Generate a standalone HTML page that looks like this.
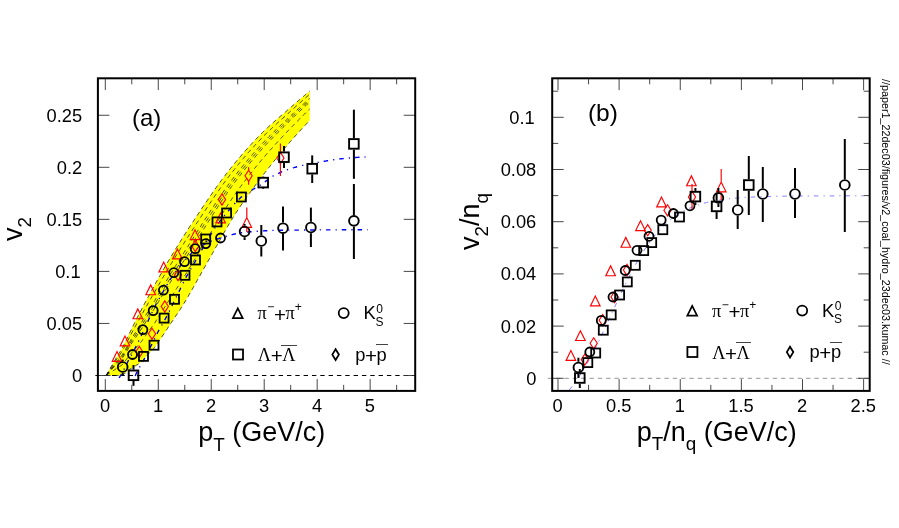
<!DOCTYPE html>
<html><head><meta charset="utf-8"><title>v2 scaling</title>
<style>
html,body{margin:0;padding:0;background:#fff;}
body{width:899px;height:528px;position:relative;overflow:hidden;font-family:"Liberation Sans",sans-serif;color:#000;}
.tx{position:absolute;left:0;top:0;width:899px;height:528px;filter:grayscale(1);}
.t{position:absolute;white-space:nowrap;line-height:1;font-family:"Liberation Sans",sans-serif;}
.sub{font-size:70%;position:relative;top:0.5em;line-height:0;}
.sup{font-size:66%;position:relative;top:-0.66em;line-height:0;}
.pl{font-size:112%;position:relative;top:0.11em;line-height:0;margin:0 -0.02em;}
.sy{font-family:"Liberation Serif",serif;}
.ob{position:relative;display:inline-block;}
.ob:before{content:"";position:absolute;left:-0.05em;right:-0.06em;top:-0.07em;border-top:1px solid #444;}
</style></head><body>
<svg width="899" height="528" viewBox="0 0 899 528" style="position:absolute;left:0;top:0">
<polygon points="106.1,375.4 107.8,372.5 109.5,369.5 111.2,366.6 112.9,363.7 114.7,360.7 116.4,357.9 118.1,355.0 119.8,352.2 121.5,349.2 123.2,346.1 124.9,342.8 126.6,339.3 128.3,335.8 130.1,332.1 131.8,328.6 133.5,325.0 135.2,321.7 136.9,318.3 138.6,315.0 140.3,311.7 142.0,308.4 143.7,305.2 145.5,301.9 147.2,298.8 148.9,295.6 150.6,292.5 152.3,289.3 154.0,286.2 155.7,283.1 157.4,280.1 159.1,277.0 160.8,274.0 162.6,271.0 164.3,268.0 166.0,265.1 167.7,262.2 169.4,259.3 171.1,256.5 172.8,253.6 174.5,250.8 176.2,248.0 178.0,245.3 179.7,242.5 181.4,239.8 183.1,237.1 184.8,234.4 186.5,231.7 188.2,229.1 189.9,226.4 191.6,223.8 193.4,221.2 195.1,218.6 196.8,216.0 198.5,213.5 200.2,210.9 201.9,208.4 203.6,205.8 205.3,203.3 207.0,200.8 208.8,198.3 210.5,195.8 212.2,193.3 213.9,190.8 215.6,188.4 217.3,186.0 219.0,183.6 220.7,181.3 222.4,178.9 224.2,176.7 225.9,174.4 227.6,172.2 229.3,170.0 231.0,167.9 232.7,165.8 234.4,163.7 236.1,161.6 237.8,159.5 239.6,157.5 241.3,155.5 243.0,153.5 244.7,151.5 246.4,149.6 248.1,147.7 249.8,145.8 251.5,143.9 253.2,142.1 255.0,140.2 256.7,138.4 258.4,136.7 260.1,134.9 261.8,133.2 263.5,131.5 265.2,129.9 266.9,128.2 268.6,126.7 270.3,125.1 272.1,123.6 273.8,122.0 275.5,120.5 277.2,119.0 278.9,117.6 280.6,116.1 282.3,114.6 284.0,113.2 285.7,111.7 287.5,110.2 289.2,108.7 290.9,107.2 292.6,105.7 294.3,104.2 296.0,102.8 297.7,101.3 299.4,99.8 301.1,98.3 302.9,96.8 304.6,95.4 306.3,93.9 308.0,92.5 309.7,91.0 309.7,120.5 308.1,122.1 306.6,123.8 305.0,125.4 303.4,127.1 301.9,128.8 300.3,130.5 298.7,132.2 297.1,133.9 295.6,135.7 294.0,137.4 292.4,139.2 290.9,141.0 289.3,142.8 287.7,144.6 286.2,146.5 284.6,148.3 283.0,150.2 281.5,152.1 279.9,154.0 278.3,155.9 276.8,157.8 275.2,159.7 273.6,161.7 272.0,163.6 270.5,165.6 268.9,167.6 267.3,169.6 265.8,171.6 264.2,173.6 262.6,175.6 261.1,177.7 259.5,179.7 257.9,181.8 256.4,183.9 254.8,186.0 253.2,188.2 251.7,190.3 250.1,192.5 248.5,194.6 246.9,196.8 245.4,199.0 243.8,201.2 242.2,203.5 240.7,205.8 239.1,208.1 237.5,210.4 236.0,212.8 234.4,215.3 232.8,217.8 231.3,220.4 229.7,223.0 228.1,225.6 226.5,228.3 225.0,231.1 223.4,233.8 221.8,236.6 220.3,239.4 218.7,242.2 217.1,245.0 215.6,247.8 214.0,250.6 212.4,253.4 210.9,256.2 209.3,259.0 207.7,261.7 206.2,264.5 204.6,267.3 203.0,270.1 201.4,272.9 199.9,275.7 198.3,278.5 196.7,281.3 195.2,284.1 193.6,286.9 192.0,289.6 190.5,292.4 188.9,295.1 187.3,297.8 185.8,300.4 184.2,303.1 182.6,305.6 181.0,308.1 179.5,310.5 177.9,312.9 176.3,315.2 174.8,317.6 173.2,319.9 171.6,322.2 170.1,324.5 168.5,326.9 166.9,329.2 165.4,331.6 163.8,334.0 162.2,336.4 160.7,338.7 159.1,341.0 157.5,343.3 155.9,345.6 154.4,347.7 152.8,349.5 151.2,351.0 149.7,352.6 148.1,354.2 146.5,356.1 145.0,358.0 143.4,359.8 141.8,361.4 140.3,362.6 138.7,363.8 137.1,364.8 135.6,365.8 134.0,366.8 132.4,367.7 130.8,368.6 129.3,369.5 127.7,370.7 126.1,372.1 124.6,373.7 123.0,375.5" fill="#ffff00"/>
<path d="M106.1 375.4L107.4 373.2L108.7 371.0L109.9 368.8L111.2 366.6L112.5 364.4L113.8 362.2L115.1 360.0L116.3 357.9L117.6 355.8L118.9 353.6L120.2 351.5L121.5 349.3L122.7 347.0L124.0 344.6L125.3 342.0L126.6 339.4L127.9 336.8L129.1 334.1L130.4 331.4L131.7 328.7L133.0 326.0L134.3 323.5L135.6 320.9L136.8 318.4L138.1 315.9L139.4 313.4L140.7 311.0L142.0 308.5L143.2 306.1L144.5 303.7L145.8 301.3L147.1 298.9L148.4 296.6L149.6 294.2L150.9 291.9L152.2 289.5L153.5 287.2L154.8 284.9L156.0 282.6L157.3 280.3L158.6 278.0L159.9 275.7L161.2 273.5L162.4 271.2L163.7 269.0L165.0 266.8L166.3 264.6L167.6 262.4L168.8 260.3L170.1 258.1L171.4 256.0L172.7 253.9L174.0 251.8L175.2 249.7L176.5 247.6L177.8 245.5L179.1 243.5L180.4 241.4L181.6 239.4L182.9 237.3L184.2 235.3L185.5 233.3L186.8 231.3L188.1 229.3L189.3 227.3L190.6 225.4L191.9 223.4L193.2 221.5L194.5 219.5L195.7 217.6L197.0 215.7L198.3 213.8L199.6 211.8L200.9 209.9L202.1 208.0L203.4 206.1L204.7 204.2L206.0 202.3L207.3 200.5L208.5 198.6L209.8 196.7L211.1 194.9L212.4 193.0L213.7 191.2L214.9 189.3L216.2 187.5L217.5 185.7L218.8 183.9L220.1 182.2L221.3 180.4L222.6 178.7L223.9 177.0L225.2 175.3L226.5 173.6L227.7 172.0L229.0 170.3L230.3 168.7L231.6 167.1L232.9 165.6L234.2 164.0L235.4 162.4L236.7 160.9L238.0 159.3L239.3 157.8L240.6 156.3L241.8 154.8L243.1 153.3L244.4 151.9L245.7 150.4L247.0 149.0L248.2 147.5L249.5 146.1L250.8 144.7L252.1 143.3L253.4 141.9L254.6 140.6L255.9 139.2L257.2 137.9L258.5 136.6L259.8 135.3L261.0 134.0L262.3 132.7L263.6 131.4L264.9 130.2L266.2 129.0L267.4 127.8L268.7 126.6L270.0 125.4L271.3 124.3L272.6 123.1L273.8 122.0L275.1 120.8L276.4 119.7L277.7 118.6L279.0 117.5L280.2 116.4L281.5 115.3L282.8 114.2L284.1 113.1L285.4 112.0L286.7 110.9L287.9 109.8L289.2 108.7L290.5 107.6L291.8 106.4L293.1 105.3L294.3 104.2L295.6 103.1L296.9 102.0L298.2 100.9L299.5 99.8L300.7 98.7L302.0 97.6L303.3 96.5L304.6 95.4L305.9 94.3L307.1 93.2L308.4 92.1L309.7 91.0" fill="none" stroke="#000" stroke-width="0.7" stroke-dasharray="4.4 3.6"/>
<path d="M106.1 375.4L107.4 373.5L108.7 371.5L109.9 369.5L111.2 367.6L112.5 365.6L113.8 363.7L115.1 361.7L116.3 359.8L117.6 357.9L118.9 356.0L120.2 354.1L121.5 352.2L122.7 350.1L124.0 347.8L125.3 345.4L126.6 343.0L127.9 340.5L129.1 338.0L130.4 335.5L131.7 333.0L133.0 330.6L134.3 328.2L135.6 325.9L136.8 323.5L138.1 321.2L139.4 318.9L140.7 316.6L142.0 314.3L143.2 312.0L144.5 309.7L145.8 307.4L147.1 305.1L148.4 302.9L149.6 300.6L150.9 298.4L152.2 296.2L153.5 294.0L154.8 291.7L156.0 289.5L157.3 287.2L158.6 285.0L159.9 282.8L161.2 280.6L162.4 278.4L163.7 276.2L165.0 274.0L166.3 271.8L167.6 269.7L168.8 267.5L170.1 265.4L171.4 263.3L172.7 261.2L174.0 259.1L175.2 257.1L176.5 255.0L177.8 252.9L179.1 250.9L180.4 248.9L181.6 246.8L182.9 244.8L184.2 242.8L185.5 240.7L186.8 238.7L188.1 236.7L189.3 234.7L190.6 232.7L191.9 230.7L193.2 228.7L194.5 226.8L195.7 224.8L197.0 222.8L198.3 220.9L199.6 218.9L200.9 217.0L202.1 215.0L203.4 213.1L204.7 211.1L206.0 209.2L207.3 207.3L208.5 205.4L209.8 203.5L211.1 201.6L212.4 199.7L213.7 197.8L214.9 195.9L216.2 194.0L217.5 192.2L218.8 190.3L220.1 188.5L221.3 186.7L222.6 184.9L223.9 183.1L225.2 181.4L226.5 179.7L227.7 177.9L229.0 176.3L230.3 174.6L231.6 172.9L232.9 171.3L234.2 169.7L235.4 168.1L236.7 166.5L238.0 164.9L239.3 163.3L240.6 161.8L241.8 160.2L243.1 158.7L244.4 157.2L245.7 155.7L247.0 154.2L248.2 152.7L249.5 151.3L250.8 149.8L252.1 148.4L253.4 147.0L254.6 145.6L255.9 144.2L257.2 142.8L258.5 141.5L259.8 140.1L261.0 138.8L262.3 137.4L263.6 136.1L264.9 134.9L266.2 133.6L267.4 132.3L268.7 131.1L270.0 129.9L271.3 128.7L272.6 127.5L273.8 126.3L275.1 125.1L276.4 124.0L277.7 122.8L279.0 121.6L280.2 120.5L281.5 119.3L282.8 118.2L284.1 117.1L285.4 115.9L286.7 114.8L287.9 113.6L289.2 112.5L290.5 111.3L291.8 110.1L293.1 109.0L294.3 107.8L295.6 106.7L296.9 105.5L298.2 104.4L299.5 103.3L300.7 102.1L302.0 101.0L303.3 99.9L304.6 98.7L305.9 97.6L307.1 96.5L308.4 95.4L309.7 94.2" fill="none" stroke="#000" stroke-width="0.7" stroke-dasharray="4.4 3.6"/>
<path d="M106.1 375.4L107.4 373.8L108.7 372.1L109.9 370.5L111.2 368.8L112.5 367.2L113.8 365.5L115.1 363.9L116.3 362.3L117.6 360.7L118.9 359.1L120.2 357.5L121.5 355.8L122.7 354.1L124.0 352.0L125.3 349.8L126.6 347.5L127.9 345.2L129.1 342.9L130.4 340.7L131.7 338.5L133.0 336.4L134.3 334.3L135.6 332.2L136.8 330.1L138.1 328.0L139.4 325.9L140.7 323.8L142.0 321.7L143.2 319.6L144.5 317.4L145.8 315.2L147.1 313.1L148.4 310.9L149.6 308.8L150.9 306.7L152.2 304.7L153.5 302.6L154.8 300.5L156.0 298.3L157.3 296.1L158.6 293.9L159.9 291.8L161.2 289.6L162.4 287.4L163.7 285.3L165.0 283.1L166.3 281.0L167.6 278.9L168.8 276.8L170.1 274.7L171.4 272.6L172.7 270.6L174.0 268.5L175.2 266.5L176.5 264.4L177.8 262.4L179.1 260.4L180.4 258.3L181.6 256.3L182.9 254.3L184.2 252.2L185.5 250.2L186.8 248.2L188.1 246.1L189.3 244.1L190.6 242.1L191.9 240.0L193.2 238.0L194.5 236.0L195.7 234.0L197.0 231.9L198.3 229.9L199.6 227.9L200.9 225.9L202.1 223.9L203.4 221.9L204.7 219.9L206.0 218.0L207.3 216.0L208.5 214.0L209.8 212.0L211.1 210.1L212.4 208.1L213.7 206.2L214.9 204.2L216.2 202.3L217.5 200.4L218.8 198.5L220.1 196.6L221.3 194.7L222.6 192.8L223.9 191.0L225.2 189.1L226.5 187.3L227.7 185.5L229.0 183.8L230.3 182.0L231.6 180.3L232.9 178.6L234.2 176.9L235.4 175.2L236.7 173.6L238.0 171.9L239.3 170.3L240.6 168.7L241.8 167.1L243.1 165.6L244.4 164.0L245.7 162.5L247.0 160.9L248.2 159.4L249.5 157.9L250.8 156.4L252.1 154.9L253.4 153.4L254.6 152.0L255.9 150.5L257.2 149.1L258.5 147.7L259.8 146.3L261.0 144.9L262.3 143.5L263.6 142.2L264.9 140.8L266.2 139.5L267.4 138.2L268.7 136.9L270.0 135.6L271.3 134.3L272.6 133.1L273.8 131.8L275.1 130.6L276.4 129.4L277.7 128.1L279.0 126.9L280.2 125.7L281.5 124.5L282.8 123.3L284.1 122.1L285.4 120.9L286.7 119.7L287.9 118.5L289.2 117.2L290.5 116.0L291.8 114.8L293.1 113.6L294.3 112.4L295.6 111.2L296.9 110.0L298.2 108.9L299.5 107.7L300.7 106.5L302.0 105.3L303.3 104.2L304.6 103.0L305.9 101.8L307.1 100.7L308.4 99.5L309.7 98.4" fill="none" stroke="#000" stroke-width="0.7" stroke-dasharray="4.4 3.6"/>
<path d="M106.1 375.4L107.4 373.9L108.7 372.4L109.9 370.9L111.2 369.4L112.5 367.9L113.8 366.3L115.1 364.8L116.3 363.4L117.6 361.9L118.9 360.4L120.2 358.9L121.5 357.4L122.7 355.8L124.0 353.8L125.3 351.6L126.6 349.4L127.9 347.2L129.1 345.1L130.4 343.0L131.7 340.9L133.0 338.8L134.3 336.9L135.6 334.9L136.8 332.9L138.1 330.9L139.4 328.9L140.7 326.9L142.0 324.9L143.2 322.8L144.5 320.7L145.8 318.6L147.1 316.4L148.4 314.4L149.6 312.3L150.9 310.3L152.2 308.3L153.5 306.3L154.8 304.2L156.0 302.1L157.3 299.9L158.6 297.7L159.9 295.6L161.2 293.5L162.4 291.3L163.7 289.2L165.0 287.0L166.3 284.9L167.6 282.8L168.8 280.7L170.1 278.7L171.4 276.6L172.7 274.6L174.0 272.5L175.2 270.5L176.5 268.5L177.8 266.4L179.1 264.4L180.4 262.4L181.6 260.4L182.9 258.3L184.2 256.3L185.5 254.3L186.8 252.2L188.1 250.2L189.3 248.1L190.6 246.1L191.9 244.0L193.2 242.0L194.5 239.9L195.7 237.9L197.0 235.9L198.3 233.8L199.6 231.8L200.9 229.8L202.1 227.7L203.4 225.7L204.7 223.7L206.0 221.7L207.3 219.7L208.5 217.7L209.8 215.7L211.1 213.7L212.4 211.8L213.7 209.8L214.9 207.8L216.2 205.9L217.5 203.9L218.8 202.0L220.1 200.0L221.3 198.1L222.6 196.2L223.9 194.3L225.2 192.5L226.5 190.6L227.7 188.8L229.0 187.0L230.3 185.2L231.6 183.5L232.9 181.7L234.2 180.0L235.4 178.3L236.7 176.6L238.0 175.0L239.3 173.3L240.6 171.7L241.8 170.1L243.1 168.5L244.4 166.9L245.7 165.3L247.0 163.8L248.2 162.3L249.5 160.7L250.8 159.2L252.1 157.7L253.4 156.2L254.6 154.7L255.9 153.3L257.2 151.8L258.5 150.4L259.8 148.9L261.0 147.5L262.3 146.1L263.6 144.7L264.9 143.4L266.2 142.0L267.4 140.7L268.7 139.4L270.0 138.1L271.3 136.8L272.6 135.5L273.8 134.2L275.1 132.9L276.4 131.7L277.7 130.4L279.0 129.2L280.2 127.9L281.5 126.7L282.8 125.4L284.1 124.2L285.4 123.0L286.7 121.8L287.9 120.5L289.2 119.3L290.5 118.1L291.8 116.8L293.1 115.6L294.3 114.4L295.6 113.2L296.9 112.0L298.2 110.8L299.5 109.6L300.7 108.4L302.0 107.2L303.3 106.0L304.6 104.8L305.9 103.6L307.1 102.5L308.4 101.3L309.7 100.1" fill="none" stroke="#000" stroke-width="0.7" stroke-dasharray="4.4 3.6"/>
<path d="M106.1 375.4L107.4 374.1L108.7 372.7L109.9 371.3L111.2 369.9L112.5 368.5L113.8 367.1L115.1 365.8L116.3 364.4L117.6 363.1L118.9 361.7L120.2 360.4L121.5 359.0L122.7 357.5L124.0 355.6L125.3 353.5L126.6 351.4L127.9 349.3L129.1 347.2L130.4 345.2L131.7 343.2L133.0 341.3L134.3 339.4L135.6 337.6L136.8 335.7L138.1 333.8L139.4 331.9L140.7 330.0L142.0 328.0L143.2 326.0L144.5 324.0L145.8 321.9L147.1 319.8L148.4 317.8L149.6 315.8L150.9 313.9L152.2 311.9L153.5 310.0L154.8 307.9L156.0 305.8L157.3 303.7L158.6 301.6L159.9 299.5L161.2 297.3L162.4 295.2L163.7 293.1L165.0 291.0L166.3 288.9L167.6 286.8L168.8 284.7L170.1 282.7L171.4 280.6L172.7 278.6L174.0 276.5L175.2 274.5L176.5 272.5L177.8 270.5L179.1 268.5L180.4 266.5L181.6 264.4L182.9 262.4L184.2 260.4L185.5 258.3L186.8 256.3L188.1 254.2L189.3 252.1L190.6 250.1L191.9 248.0L193.2 245.9L194.5 243.9L195.7 241.8L197.0 239.8L198.3 237.7L199.6 235.7L200.9 233.6L202.1 231.6L203.4 229.5L204.7 227.5L206.0 225.4L207.3 223.4L208.5 221.4L209.8 219.4L211.1 217.4L212.4 215.4L213.7 213.4L214.9 211.4L216.2 209.4L217.5 207.4L218.8 205.4L220.1 203.5L221.3 201.5L222.6 199.6L223.9 197.7L225.2 195.8L226.5 193.9L227.7 192.1L229.0 190.2L230.3 188.4L231.6 186.6L232.9 184.9L234.2 183.1L235.4 181.4L236.7 179.7L238.0 178.0L239.3 176.3L240.6 174.7L241.8 173.0L243.1 171.4L244.4 169.8L245.7 168.2L247.0 166.7L248.2 165.1L249.5 163.6L250.8 162.0L252.1 160.5L253.4 159.0L254.6 157.5L255.9 156.0L257.2 154.5L258.5 153.0L259.8 151.6L261.0 150.1L262.3 148.7L263.6 147.3L264.9 145.9L266.2 144.5L267.4 143.2L268.7 141.8L270.0 140.5L271.3 139.2L272.6 137.9L273.8 136.6L275.1 135.3L276.4 134.0L277.7 132.7L279.0 131.4L280.2 130.1L281.5 128.9L282.8 127.6L284.1 126.4L285.4 125.1L286.7 123.9L287.9 122.6L289.2 121.4L290.5 120.1L291.8 118.9L293.1 117.6L294.3 116.4L295.6 115.1L296.9 113.9L298.2 112.7L299.5 111.5L300.7 110.3L302.0 109.1L303.3 107.9L304.6 106.7L305.9 105.5L307.1 104.3L308.4 103.1L309.7 101.9" fill="none" stroke="#000" stroke-width="0.7" stroke-dasharray="4.4 3.6"/>
<path d="M106.1 375.5L107.4 374.6L108.7 373.7L109.9 372.9L111.2 372.0L112.5 371.2L113.8 370.3L115.1 369.5L116.3 368.6L117.6 367.8L118.9 367.0L120.2 366.1L121.5 365.3L122.7 364.4L124.0 362.7L125.3 360.9L126.6 359.1L127.9 357.4L129.1 355.7L130.4 354.2L131.7 352.7L133.0 351.3L134.3 349.8L135.6 348.3L136.8 346.8L138.1 345.4L139.4 343.8L140.7 342.3L142.0 340.7L143.2 339.0L144.5 337.2L145.8 335.3L147.1 333.4L148.4 331.6L149.6 329.8L150.9 328.2L152.2 326.5L153.5 324.7L154.8 322.9L156.0 320.9L157.3 318.9L158.6 316.9L159.9 314.8L161.2 312.8L162.4 310.8L163.7 308.7L165.0 306.7L166.3 304.6L167.6 302.6L168.8 300.6L170.1 298.6L171.4 296.6L172.7 294.6L174.0 292.6L175.2 290.6L176.5 288.7L177.8 286.7L179.1 284.7L180.4 282.7L181.6 280.7L182.9 278.7L184.2 276.6L185.5 274.5L186.8 272.4L188.1 270.3L189.3 268.2L190.6 266.1L191.9 264.0L193.2 261.8L194.5 259.7L195.7 257.5L197.0 255.4L198.3 253.2L199.6 251.1L200.9 249.0L202.1 246.8L203.4 244.7L204.7 242.6L206.0 240.4L207.3 238.3L208.5 236.2L209.8 234.1L211.1 232.0L212.4 229.9L213.7 227.8L214.9 225.7L216.2 223.6L217.5 221.5L218.8 219.4L220.1 217.3L221.3 215.2L222.6 213.2L223.9 211.1L225.2 209.1L226.5 207.1L227.7 205.1L229.0 203.1L230.3 201.2L231.6 199.3L232.9 197.4L234.2 195.5L235.4 193.7L236.7 191.9L238.0 190.1L239.3 188.3L240.6 186.6L241.8 184.9L243.1 183.2L244.4 181.5L245.7 179.8L247.0 178.2L248.2 176.5L249.5 174.9L250.8 173.2L252.1 171.6L253.4 170.0L254.6 168.4L255.9 166.8L257.2 165.3L258.5 163.7L259.8 162.2L261.0 160.6L262.3 159.1L263.6 157.6L264.9 156.1L266.2 154.6L267.4 153.2L268.7 151.7L270.0 150.3L271.3 148.9L272.6 147.4L273.8 146.0L275.1 144.6L276.4 143.2L277.7 141.8L279.0 140.4L280.2 139.0L281.5 137.7L282.8 136.3L284.1 135.0L285.4 133.6L286.7 132.2L287.9 130.9L289.2 129.6L290.5 128.2L291.8 126.9L293.1 125.6L294.3 124.3L295.6 122.9L296.9 121.6L298.2 120.4L299.5 119.1L300.7 117.8L302.0 116.5L303.3 115.2L304.6 114.0L305.9 112.7L307.1 111.5L308.4 110.2L309.7 109.0" fill="none" stroke="#000" stroke-width="0.7" stroke-dasharray="4.4 3.6"/>
<path d="M106.1 375.5L107.4 375.5L108.7 375.5L109.9 375.5L111.2 375.5L112.5 375.5L113.8 375.5L115.1 375.5L116.3 375.5L117.6 375.5L118.9 375.5L120.2 375.5L121.5 375.5L122.7 375.5L124.0 374.3L125.3 373.0L126.6 371.7L127.9 370.6L129.1 369.6L130.4 368.8L131.7 368.1L133.0 367.4L134.3 366.7L135.6 365.8L136.8 365.0L138.1 364.2L139.4 363.3L140.7 362.3L142.0 361.3L143.2 360.0L144.5 358.5L145.8 357.0L147.1 355.4L148.4 354.0L149.6 352.6L150.9 351.4L152.2 350.1L153.5 348.7L154.8 347.2L156.0 345.5L157.3 343.6L158.6 341.7L159.9 339.9L161.2 338.0L162.4 336.0L163.7 334.1L165.0 332.1L166.3 330.2L167.6 328.3L168.8 326.3L170.1 324.4L171.4 322.5L172.7 320.6L174.0 318.7L175.2 316.8L176.5 314.9L177.8 313.0L179.1 311.1L180.4 309.1L181.6 307.1L182.9 305.1L184.2 303.0L185.5 300.9L186.8 298.7L188.1 296.6L189.3 294.3L190.6 292.1L191.9 289.9L193.2 287.6L194.5 285.4L195.7 283.1L197.0 280.8L198.3 278.5L199.6 276.2L200.9 273.9L202.1 271.6L203.4 269.3L204.7 267.0L206.0 264.8L207.3 262.5L208.5 260.3L209.8 258.0L211.1 255.8L212.4 253.5L213.7 251.2L214.9 248.9L216.2 246.7L217.5 244.4L218.8 242.1L220.1 239.8L221.3 237.5L222.6 235.2L223.9 232.9L225.2 230.7L226.5 228.5L227.7 226.3L229.0 224.1L230.3 221.9L231.6 219.8L232.9 217.7L234.2 215.7L235.4 213.6L236.7 211.7L238.0 209.7L239.3 207.8L240.6 205.9L241.8 204.1L243.1 202.2L244.4 200.4L245.7 198.6L247.0 196.8L248.2 195.0L249.5 193.3L250.8 191.5L252.1 189.7L253.4 188.0L254.6 186.2L255.9 184.5L257.2 182.8L258.5 181.1L259.8 179.4L261.0 177.7L262.3 176.0L263.6 174.4L264.9 172.7L266.2 171.1L267.4 169.4L268.7 167.8L270.0 166.2L271.3 164.6L272.6 163.0L273.8 161.4L275.1 159.8L276.4 158.2L277.7 156.6L279.0 155.1L280.2 153.5L281.5 152.0L282.8 150.4L284.1 148.9L285.4 147.4L286.7 145.9L287.9 144.4L289.2 142.9L290.5 141.4L291.8 140.0L293.1 138.5L294.3 137.1L295.6 135.6L296.9 134.2L298.2 132.8L299.5 131.4L300.7 130.0L302.0 128.6L303.3 127.2L304.6 125.9L305.9 124.5L307.1 123.2L308.4 121.8L309.7 120.5" fill="none" stroke="#000" stroke-width="0.7" stroke-dasharray="4.4 3.6"/>
<path d="M95.37 375.5H415.2" stroke="#000" stroke-width="1.2" stroke-dasharray="4.4 3.93" fill="none"/>
<path d="M119.1 378.0L119.9 376.6L120.8 375.1L121.6 373.6L122.4 372.1L123.3 370.6L124.1 369.0L124.9 367.4L125.8 365.8L126.6 364.1L127.4 362.5L128.2 360.9L129.1 359.4L129.9 357.8L130.7 356.3L131.6 354.8L132.4 353.2L133.2 351.7L134.1 350.1L134.9 348.6L135.7 346.9L136.6 345.3L137.4 343.6L138.2 341.9L139.1 340.2L139.9 338.5L140.7 336.7L141.5 335.0L142.4 333.2L143.2 331.4L144.0 329.6L144.9 327.8L145.7 326.0L146.5 324.3L147.4 322.5L148.2 320.7L149.0 318.9L149.9 317.2L150.7 315.4L151.5 313.6L152.4 311.8L153.2 310.1L154.0 308.3L154.9 306.7L155.7 305.0L156.5 303.4L157.3 301.9L158.2 300.4L159.0 298.9L159.8 297.4L160.7 295.9L161.5 294.5L162.3 293.0L163.2 291.6L164.0 290.2L164.8 288.7L165.7 287.3L166.5 285.8L167.3 284.4L168.2 283.0L169.0 281.6L169.8 280.2L170.6 278.9L171.5 277.6L172.3 276.4L173.1 275.2L174.0 274.0L174.8 272.9L175.6 271.8L176.5 270.7L177.3 269.6L178.1 268.6L179.0 267.5L179.8 266.5L180.6 265.4L181.5 264.4L182.3 263.4L183.1 262.4L184.0 261.4L184.8 260.5L185.6 259.6L186.4 258.6L187.3 257.7L188.1 256.8L188.9 255.9L189.8 255.0L190.6 254.2L191.4 253.3L192.3 252.5L193.1 251.7L193.9 251.0L194.8 250.3L195.6 249.7L196.4 249.1L197.3 248.5L198.1 247.9L198.9 247.4L199.7 246.9L200.6 246.3L201.4 245.9L202.2 245.4L203.1 244.9L203.9 244.5L204.7 244.1L205.6 243.7L206.4 243.3L207.2 242.9L208.1 242.5L208.9 242.2L209.7 241.8L210.6 241.5L211.4 241.1L212.2 240.8L213.1 240.5L213.9 240.2L214.7 239.9L215.5 239.6L216.4 239.3L217.2 239.0L218.0 238.8L218.9 238.5L219.7 238.2L220.5 238.0L221.4 237.7L222.2 237.5L223.0 237.2L223.9 237.0L224.7 236.8L225.5 236.5L226.4 236.3L227.2 236.0L228.0 235.8L228.8 235.5L229.7 235.3L230.5 235.1L231.3 234.9L232.2 234.6L233.0 234.4L233.8 234.2L234.7 234.0L235.5 233.8L236.3 233.6L237.2 233.5L238.0 233.3L238.8 233.1L239.7 233.0L240.5 232.8L241.3 232.7L242.2 232.6L243.0 232.5L243.8 232.4L244.6 232.3L245.5 232.2L246.3 232.1L247.1 232.1L248.0 232.0L248.8 231.9L249.6 231.9L250.5 231.8L251.3 231.7L252.1 231.6L253.0 231.6L253.8 231.5L254.6 231.5L255.5 231.4L256.3 231.3L257.1 231.3L258.0 231.2L258.8 231.2L259.6 231.1L260.4 231.0L261.3 231.0L262.1 230.9L262.9 230.9L263.8 230.9L264.6 230.8L265.4 230.8L266.3 230.7L267.1 230.7L267.9 230.6L268.8 230.6L269.6 230.6L270.4 230.5L271.3 230.5L272.1 230.5L272.9 230.4L273.7 230.4L274.6 230.4L275.4 230.3L276.2 230.3L277.1 230.3L277.9 230.3L278.7 230.3L279.6 230.2L280.4 230.2L281.2 230.2L282.1 230.2L282.9 230.2L283.7 230.2L284.6 230.2L285.4 230.2L286.2 230.2L287.1 230.2L287.9 230.2L288.7 230.1L289.5 230.1L290.4 230.1L291.2 230.1L292.0 230.1L292.9 230.1L293.7 230.1L294.5 230.1L295.4 230.1L296.2 230.1L297.0 230.1L297.9 230.1L298.7 230.1L299.5 230.1L300.4 230.0L301.2 230.0L302.0 230.0L302.8 230.0L303.7 230.0L304.5 230.0L305.3 230.0L306.2 230.0L307.0 230.0L307.8 230.0L308.7 230.0L309.5 230.0L310.3 230.0L311.2 230.0L312.0 230.0L312.8 230.0L313.7 230.0L314.5 230.0L315.3 229.9L316.2 229.9L317.0 229.9L317.8 229.9L318.6 229.9L319.5 229.9L320.3 229.9L321.1 229.9L322.0 229.9L322.8 229.9L323.6 229.9L324.5 229.9L325.3 229.9L326.1 229.9L327.0 229.9L327.8 229.9L328.6 229.9L329.5 229.9L330.3 229.9L331.1 229.9L331.9 229.9L332.8 229.9L333.6 229.9L334.4 229.9L335.3 229.9L336.1 229.9L336.9 229.9L337.8 229.8L338.6 229.8L339.4 229.8L340.3 229.8L341.1 229.8L341.9 229.8L342.8 229.8L343.6 229.8L344.4 229.8L345.3 229.8L346.1 229.8L346.9 229.8L347.7 229.8L348.6 229.8L349.4 229.8L350.2 229.8L351.1 229.8L351.9 229.8L352.7 229.8L353.6 229.8L354.4 229.8L355.2 229.8L356.1 229.8L356.9 229.8L357.7 229.8L358.6 229.8L359.4 229.8L360.2 229.8L361.0 229.8L361.9 229.8L362.7 229.8L363.5 229.8L364.4 229.8L365.2 229.8L366.0 229.8L366.9 229.8L367.7 229.8" fill="none" stroke="#0000ff" stroke-width="1.4" stroke-dasharray="4.5 5.1 1.2 5"/>
<path d="M135.2 375.9L136.0 374.0L136.7 372.4L137.5 370.9L138.3 369.6L139.1 368.2L139.8 366.8L140.6 365.5L141.4 364.1L142.1 362.8L142.9 361.5L143.7 360.1L144.4 358.7L145.2 357.2L146.0 355.8L146.8 354.3L147.5 352.8L148.3 351.3L149.1 349.7L149.8 348.2L150.6 346.7L151.4 345.2L152.1 343.6L152.9 342.0L153.7 340.4L154.5 338.9L155.2 337.3L156.0 335.7L156.8 334.2L157.5 332.7L158.3 331.3L159.1 329.9L159.8 328.5L160.6 327.2L161.4 325.9L162.2 324.5L162.9 323.2L163.7 321.9L164.5 320.5L165.2 319.1L166.0 317.6L166.8 316.2L167.5 314.7L168.3 313.1L169.1 311.6L169.9 310.1L170.6 308.5L171.4 306.9L172.2 305.4L172.9 303.8L173.7 302.2L174.5 300.7L175.3 299.1L176.0 297.5L176.8 296.0L177.6 294.4L178.3 292.8L179.1 291.3L179.9 289.7L180.6 288.1L181.4 286.6L182.2 285.0L183.0 283.5L183.7 282.0L184.5 280.4L185.3 278.9L186.0 277.4L186.8 275.9L187.6 274.5L188.3 273.1L189.1 271.8L189.9 270.5L190.7 269.1L191.4 267.9L192.2 266.6L193.0 265.3L193.7 264.0L194.5 262.7L195.3 261.4L196.0 260.1L196.8 258.8L197.6 257.5L198.4 256.1L199.1 254.7L199.9 253.3L200.7 251.9L201.4 250.5L202.2 249.1L203.0 247.7L203.8 246.4L204.5 245.0L205.3 243.7L206.1 242.4L206.8 241.1L207.6 239.8L208.4 238.5L209.1 237.2L209.9 235.9L210.7 234.7L211.5 233.4L212.2 232.2L213.0 231.0L213.8 229.8L214.5 228.6L215.3 227.4L216.1 226.3L216.8 225.2L217.6 224.1L218.4 223.1L219.2 222.1L219.9 221.1L220.7 220.1L221.5 219.1L222.2 218.2L223.0 217.2L223.8 216.3L224.5 215.4L225.3 214.5L226.1 213.6L226.9 212.7L227.6 211.8L228.4 210.9L229.2 210.0L229.9 209.1L230.7 208.2L231.5 207.3L232.2 206.4L233.0 205.5L233.8 204.6L234.6 203.7L235.3 202.9L236.1 202.0L236.9 201.2L237.6 200.4L238.4 199.7L239.2 198.9L240.0 198.2L240.7 197.5L241.5 196.9L242.3 196.3L243.0 195.7L243.8 195.1L244.6 194.6L245.3 194.0L246.1 193.5L246.9 193.0L247.7 192.5L248.4 192.0L249.2 191.6L250.0 191.1L250.7 190.6L251.5 190.2L252.3 189.8L253.0 189.3L253.8 188.9L254.6 188.4L255.4 188.0L256.1 187.6L256.9 187.1L257.7 186.7L258.4 186.2L259.2 185.8L260.0 185.3L260.7 184.8L261.5 184.3L262.3 183.8L263.1 183.3L263.8 182.8L264.6 182.2L265.4 181.6L266.1 180.9L266.9 180.3L267.7 179.7L268.5 179.1L269.2 178.5L270.0 177.9L270.8 177.3L271.5 176.8L272.3 176.4L273.1 176.0L273.8 175.6L274.6 175.2L275.4 174.8L276.2 174.4L276.9 174.0L277.7 173.7L278.5 173.3L279.2 173.0L280.0 172.6L280.8 172.3L281.5 171.9L282.3 171.6L283.1 171.3L283.9 171.0L284.6 170.7L285.4 170.4L286.2 170.1L286.9 169.9L287.7 169.6L288.5 169.3L289.2 169.1L290.0 168.8L290.8 168.6L291.6 168.3L292.3 168.1L293.1 167.8L293.9 167.6L294.6 167.4L295.4 167.2L296.2 167.0L296.9 166.8L297.7 166.6L298.5 166.4L299.3 166.2L300.0 166.0L300.8 165.8L301.6 165.6L302.3 165.4L303.1 165.3L303.9 165.1L304.7 164.9L305.4 164.8L306.2 164.6L307.0 164.4L307.7 164.3L308.5 164.1L309.3 164.0L310.0 163.8L310.8 163.7L311.6 163.5L312.4 163.4L313.1 163.2L313.9 163.1L314.7 162.9L315.4 162.8L316.2 162.7L317.0 162.5L317.7 162.4L318.5 162.3L319.3 162.1L320.1 162.0L320.8 161.9L321.6 161.7L322.4 161.6L323.1 161.5L323.9 161.3L324.7 161.2L325.4 161.1L326.2 160.9L327.0 160.8L327.8 160.7L328.5 160.5L329.3 160.4L330.1 160.3L330.8 160.2L331.6 160.0L332.4 159.9L333.2 159.8L333.9 159.7L334.7 159.6L335.5 159.5L336.2 159.4L337.0 159.3L337.8 159.2L338.5 159.1L339.3 159.0L340.1 158.9L340.9 158.8L341.6 158.7L342.4 158.6L343.2 158.6L343.9 158.5L344.7 158.4L345.5 158.3L346.2 158.3L347.0 158.2L347.8 158.1L348.6 158.1L349.3 158.0L350.1 157.9L350.9 157.9L351.6 157.8L352.4 157.7L353.2 157.7L353.9 157.6L354.7 157.6L355.5 157.5L356.3 157.5L357.0 157.4L357.8 157.4L358.6 157.3L359.3 157.3L360.1 157.2L360.9 157.2L361.6 157.1L362.4 157.1L363.2 157.1L364.0 157.1L364.7 157.0L365.5 157.0" fill="none" stroke="#0000ff" stroke-width="1.4" stroke-dasharray="4.5 5.1 1.2 5"/>
<path d="M246.8 207.6V217.1" stroke="#f00" stroke-width="1.2" fill="none"/>
<path d="M246.8 227.7V232.0" stroke="#f00" stroke-width="1.2" fill="none"/>
<path d="M112.2 361.4L121.8 361.4L117.0 351.6Z" fill="none" stroke="#f00" stroke-width="1.15" stroke-linejoin="miter"/>
<path d="M120.2 345.9L129.8 345.9L125.0 336.1Z" fill="none" stroke="#f00" stroke-width="1.15" stroke-linejoin="miter"/>
<path d="M133.0 318.7L142.6 318.7L137.8 308.9Z" fill="none" stroke="#f00" stroke-width="1.15" stroke-linejoin="miter"/>
<path d="M145.9 294.7L155.5 294.7L150.7 284.9Z" fill="none" stroke="#f00" stroke-width="1.15" stroke-linejoin="miter"/>
<path d="M158.9 271.9L168.5 271.9L163.7 262.1Z" fill="none" stroke="#f00" stroke-width="1.15" stroke-linejoin="miter"/>
<path d="M172.6 258.9L182.2 258.9L177.4 249.1Z" fill="none" stroke="#f00" stroke-width="1.15" stroke-linejoin="miter"/>
<path d="M190.2 239.6L199.8 239.6L195.0 229.8Z" fill="none" stroke="#f00" stroke-width="1.15" stroke-linejoin="miter"/>
<path d="M215.8 222.9L225.4 222.9L220.6 213.1Z" fill="none" stroke="#f00" stroke-width="1.15" stroke-linejoin="miter"/>
<path d="M242.0 227.3L251.6 227.3L246.8 217.5Z" fill="none" stroke="#f00" stroke-width="1.15" stroke-linejoin="miter"/>
<path d="M248.6 167.2V170.2" stroke="#f00" stroke-width="1.15" fill="none"/>
<path d="M248.6 181.4V184.7" stroke="#f00" stroke-width="1.15" fill="none"/>
<path d="M280.4 143.5V152.4" stroke="#f00" stroke-width="1.15" fill="none"/>
<path d="M280.4 163.6V176.0" stroke="#f00" stroke-width="1.15" fill="none"/>
<path d="M135.7 352.0L139.3 346.4L142.9 352.0L139.3 357.6Z" fill="none" stroke="#f00" stroke-width="1.15"/>
<path d="M148.4 333.8L152.0 328.2L155.6 333.8L152.0 339.4Z" fill="none" stroke="#f00" stroke-width="1.15"/>
<path d="M161.2 306.5L164.8 300.9L168.4 306.5L164.8 312.1Z" fill="none" stroke="#f00" stroke-width="1.15"/>
<path d="M174.4 275.0L178.0 269.4L181.6 275.0L178.0 280.6Z" fill="none" stroke="#f00" stroke-width="1.15"/>
<path d="M191.7 246.0L195.3 240.4L198.9 246.0L195.3 251.6Z" fill="none" stroke="#f00" stroke-width="1.15"/>
<path d="M218.4 199.5L222.0 193.9L225.6 199.5L222.0 205.1Z" fill="none" stroke="#f00" stroke-width="1.15"/>
<path d="M245.0 175.8L248.6 170.2L252.2 175.8L248.6 181.4Z" fill="none" stroke="#f00" stroke-width="1.15"/>
<path d="M276.8 158.0L280.4 152.4L284.0 158.0L280.4 163.6Z" fill="none" stroke="#f00" stroke-width="1.15"/>
<path d="M133.5 365.0V369.6" stroke="#000" stroke-width="2.0" fill="none"/>
<path d="M133.5 381.0V385.8" stroke="#000" stroke-width="2.0" fill="none"/>
<path d="M263.2 176.5V176.9" stroke="#000" stroke-width="2.0" fill="none"/>
<path d="M263.2 188.3V189.0" stroke="#000" stroke-width="2.0" fill="none"/>
<path d="M284.0 146.0V151.5" stroke="#000" stroke-width="2.0" fill="none"/>
<path d="M284.0 162.9V168.0" stroke="#000" stroke-width="2.0" fill="none"/>
<path d="M312.2 155.4V163.0" stroke="#000" stroke-width="2.0" fill="none"/>
<path d="M312.2 174.4V183.0" stroke="#000" stroke-width="2.0" fill="none"/>
<path d="M353.9 109.7V138.2" stroke="#000" stroke-width="2.0" fill="none"/>
<path d="M353.9 149.6V178.8" stroke="#000" stroke-width="2.0" fill="none"/>
<rect x="128.7" y="370.5" width="9.6" height="9.6" fill="none" stroke="#000" stroke-width="1.9"/>
<rect x="139.0" y="351.9" width="9.0" height="9.0" fill="none" stroke="#000" stroke-width="1.8"/>
<rect x="149.5" y="340.7" width="9.0" height="9.0" fill="none" stroke="#000" stroke-width="1.8"/>
<rect x="159.6" y="313.6" width="9.0" height="9.0" fill="none" stroke="#000" stroke-width="1.8"/>
<rect x="170.0" y="294.8" width="9.0" height="9.0" fill="none" stroke="#000" stroke-width="1.8"/>
<rect x="180.5" y="270.8" width="9.0" height="9.0" fill="none" stroke="#000" stroke-width="1.8"/>
<rect x="191.0" y="255.5" width="9.0" height="9.0" fill="none" stroke="#000" stroke-width="1.8"/>
<rect x="201.2" y="234.5" width="9.0" height="9.0" fill="none" stroke="#000" stroke-width="1.8"/>
<rect x="212.5" y="217.4" width="9.0" height="9.0" fill="none" stroke="#000" stroke-width="1.8"/>
<rect x="222.1" y="208.5" width="9.0" height="9.0" fill="none" stroke="#000" stroke-width="1.8"/>
<rect x="236.9" y="192.5" width="9.0" height="9.0" fill="none" stroke="#000" stroke-width="1.8"/>
<rect x="258.4" y="177.8" width="9.6" height="9.6" fill="none" stroke="#000" stroke-width="1.9"/>
<rect x="279.2" y="152.4" width="9.6" height="9.6" fill="none" stroke="#000" stroke-width="1.9"/>
<rect x="307.4" y="163.9" width="9.6" height="9.6" fill="none" stroke="#000" stroke-width="1.9"/>
<rect x="349.1" y="139.1" width="9.6" height="9.6" fill="none" stroke="#000" stroke-width="1.9"/>
<path d="M122.7 359.6V361.3" stroke="#000" stroke-width="2.0" fill="none"/>
<path d="M122.7 372.7V376.0" stroke="#000" stroke-width="2.0" fill="none"/>
<path d="M244.6 224.0V225.8" stroke="#000" stroke-width="2.0" fill="none"/>
<path d="M244.6 237.2V240.0" stroke="#000" stroke-width="2.0" fill="none"/>
<path d="M261.3 225.0V235.3" stroke="#000" stroke-width="2.0" fill="none"/>
<path d="M261.3 246.7V256.5" stroke="#000" stroke-width="2.0" fill="none"/>
<path d="M283.0 206.5V222.5" stroke="#000" stroke-width="2.0" fill="none"/>
<path d="M283.0 233.9V250.5" stroke="#000" stroke-width="2.0" fill="none"/>
<path d="M310.9 207.6V221.8" stroke="#000" stroke-width="2.0" fill="none"/>
<path d="M310.9 233.2V247.0" stroke="#000" stroke-width="2.0" fill="none"/>
<path d="M353.9 184.0V215.1" stroke="#000" stroke-width="2.0" fill="none"/>
<path d="M353.9 226.5V259.0" stroke="#000" stroke-width="2.0" fill="none"/>
<circle cx="122.7" cy="367.0" r="4.85" fill="none" stroke="#000" stroke-width="1.9"/>
<circle cx="132.5" cy="354.5" r="4.5" fill="none" stroke="#000" stroke-width="1.8"/>
<circle cx="142.9" cy="329.7" r="4.5" fill="none" stroke="#000" stroke-width="1.8"/>
<circle cx="153.2" cy="310.6" r="4.5" fill="none" stroke="#000" stroke-width="1.8"/>
<circle cx="163.4" cy="290.2" r="4.5" fill="none" stroke="#000" stroke-width="1.8"/>
<circle cx="173.8" cy="272.7" r="4.5" fill="none" stroke="#000" stroke-width="1.8"/>
<circle cx="184.5" cy="261.7" r="4.5" fill="none" stroke="#000" stroke-width="1.8"/>
<circle cx="195.2" cy="248.7" r="4.5" fill="none" stroke="#000" stroke-width="1.8"/>
<circle cx="205.7" cy="243.6" r="4.5" fill="none" stroke="#000" stroke-width="1.8"/>
<circle cx="220.5" cy="238.0" r="4.5" fill="none" stroke="#000" stroke-width="1.8"/>
<circle cx="244.6" cy="231.5" r="4.85" fill="none" stroke="#000" stroke-width="1.9"/>
<circle cx="261.3" cy="241.0" r="4.85" fill="none" stroke="#000" stroke-width="1.9"/>
<circle cx="283.0" cy="228.2" r="4.85" fill="none" stroke="#000" stroke-width="1.9"/>
<circle cx="310.9" cy="227.5" r="4.85" fill="none" stroke="#000" stroke-width="1.9"/>
<circle cx="353.9" cy="220.8" r="4.85" fill="none" stroke="#000" stroke-width="1.9"/>
<path d="M105.30 390.9v-11.8M105.30 78.3v11.8M158.27 390.9v-11.8M158.27 78.3v11.8M211.24 390.9v-11.8M211.24 78.3v11.8M264.21 390.9v-11.8M264.21 78.3v11.8M317.18 390.9v-11.8M317.18 78.3v11.8M370.15 390.9v-11.8M370.15 78.3v11.8M131.78 390.9v-6M131.78 78.3v6M184.75 390.9v-6M184.75 78.3v6M237.73 390.9v-6M237.73 78.3v6M290.69 390.9v-6M290.69 78.3v6M343.67 390.9v-6M343.67 78.3v6M396.63 390.9v-6M396.63 78.3v6M97.9 375.50h11.5M415.2 375.50h-11.5M97.9 323.45h11.5M415.2 323.45h-11.5M97.9 271.40h11.5M415.2 271.40h-11.5M97.9 219.35h11.5M415.2 219.35h-11.5M97.9 167.30h11.5M415.2 167.30h-11.5M97.9 115.25h11.5M415.2 115.25h-11.5" stroke="#333" stroke-width="0.9" fill="none"/>
<rect x="97.9" y="78.3" width="317.3" height="312.6" fill="none" stroke="#000" stroke-width="2.0"/>
<path d="M232.9 318.1L242.7 318.1L237.8 308.3Z" fill="none" stroke="#000" stroke-width="1.7" stroke-linejoin="miter"/>
<circle cx="343.7" cy="313.1" r="5.0" fill="none" stroke="#000" stroke-width="1.8"/>
<rect x="233.0" y="349.5" width="10.0" height="10.0" fill="none" stroke="#000" stroke-width="1.8"/>
<path d="M332.3 354.6L335.6 349.2L338.9 354.6L335.6 360.0Z" fill="none" stroke="#000" stroke-width="1.8"/>
<path d="M547.8 378.3H869.7" stroke="#aaa" stroke-width="1.3" stroke-dasharray="4.4 3.93" fill="none"/>
<path d="M569.2 390.0L570.4 388.6L571.6 387.1L572.7 385.5L573.9 384.0L575.1 382.3L576.3 380.7L577.5 378.9L578.7 377.2L579.8 375.4L581.0 373.5L582.2 371.6L583.4 369.7L584.6 367.7L585.8 365.7L586.9 363.6L588.1 361.6L589.3 359.4L590.5 357.2L591.7 355.0L592.8 352.8L594.0 350.5L595.2 348.2L596.4 345.8L597.6 343.5L598.8 341.1L599.9 338.6L601.1 336.2L602.3 333.7L603.5 331.2L604.7 328.7L605.9 326.2L607.0 323.6L608.2 321.1L609.4 318.5L610.6 316.0L611.8 313.4L612.9 310.8L614.1 308.3L615.3 305.7L616.5 303.1L617.7 300.6L618.9 298.1L620.0 295.5L621.2 293.0L622.4 290.5L623.6 288.1L624.8 285.6L626.0 283.2L627.1 280.8L628.3 278.5L629.5 276.1L630.7 273.8L631.9 271.6L633.0 269.3L634.2 267.1L635.4 265.0L636.6 262.8L637.8 260.8L639.0 258.7L640.1 256.7L641.3 254.7L642.5 252.8L643.7 251.0L644.9 249.1L646.1 247.3L647.2 245.6L648.4 243.9L649.6 242.2L650.8 240.6L652.0 239.0L653.2 237.5L654.3 236.0L655.5 234.6L656.7 233.2L657.9 231.8L659.1 230.5L660.2 229.2L661.4 228.0L662.6 226.8L663.8 225.6L665.0 224.5L666.2 223.4L667.3 222.3L668.5 221.3L669.7 220.3L670.9 219.4L672.1 218.5L673.3 217.6L674.4 216.7L675.6 215.9L676.8 215.1L678.0 214.4L679.2 213.6L680.3 212.9L681.5 212.2L682.7 211.6L683.9 210.9L685.1 210.3L686.3 209.7L687.4 209.2L688.6 208.6L689.8 208.1L691.0 207.6L692.2 207.1L693.4 206.6L694.5 206.2L695.7 205.8L696.9 205.4L698.1 205.0L699.3 204.6L700.4 204.2L701.6 203.9L702.8 203.5L704.0 203.2L705.2 202.9L706.4 202.6L707.5 202.3L708.7 202.0L709.9 201.8L711.1 201.5L712.3 201.3L713.5 201.1L714.6 200.8L715.8 200.6L717.0 200.4L718.2 200.2L719.4 200.0L720.6 199.9L721.7 199.7L722.9 199.5L724.1 199.4L725.3 199.2L726.5 199.1L727.6 198.9L728.8 198.8L730.0 198.7L731.2 198.5L732.4 198.4L733.6 198.3L734.7 198.2L735.9 198.1L737.1 198.0L738.3 197.9L739.5 197.8L740.7 197.7L741.8 197.7L743.0 197.6L744.2 197.5L745.4 197.4L746.6 197.4L747.7 197.3L748.9 197.2L750.1 197.2L751.3 197.1L752.5 197.1L753.7 197.0L754.8 196.9L756.0 196.9L757.2 196.8L758.4 196.8L759.6 196.8L760.8 196.7L761.9 196.7L763.1 196.6L764.3 196.6L765.5 196.6L766.7 196.5L767.8 196.5L769.0 196.5L770.2 196.4L771.4 196.4L772.6 196.4L773.8 196.4L774.9 196.3L776.1 196.3L777.3 196.3L778.5 196.3L779.7 196.3L780.9 196.2L782.0 196.2L783.2 196.2L784.4 196.2L785.6 196.2L786.8 196.1L787.9 196.1L789.1 196.1L790.3 196.1L791.5 196.1L792.7 196.1L793.9 196.1L795.0 196.1L796.2 196.0L797.4 196.0L798.6 196.0L799.8 196.0L801.0 196.0L802.1 196.0L803.3 196.0L804.5 196.0L805.7 196.0L806.9 196.0L808.1 196.0L809.2 195.9L810.4 195.9L811.6 195.9L812.8 195.9L814.0 195.9L815.1 195.9L816.3 195.9L817.5 195.9L818.7 195.9L819.9 195.9L821.1 195.9L822.2 195.9L823.4 195.9L824.6 195.9L825.8 195.9L827.0 195.9L828.2 195.9L829.3 195.9L830.5 195.9L831.7 195.9L832.9 195.9L834.1 195.9L835.2 195.9L836.4 195.9L837.6 195.8L838.8 195.8L840.0 195.8L841.2 195.8L842.3 195.8L843.5 195.8L844.7 195.8L845.9 195.8L847.1 195.8L848.3 195.8L849.4 195.8L850.6 195.8L851.8 195.8L853.0 195.8L854.2 195.8L855.3 195.8L856.5 195.8L857.7 195.8L858.9 195.8L860.1 195.8L861.3 195.8L862.4 195.8L863.6 195.8" fill="none" stroke="#5a5aff" stroke-width="0.8" stroke-dasharray="4.5 5.1 1.2 5"/>
<path d="M721.2 169.1V181.6" stroke="#f00" stroke-width="1.15" fill="none"/>
<path d="M721.2 192.2V200.0" stroke="#f00" stroke-width="1.15" fill="none"/>
<path d="M566.1 360.4L575.7 360.4L570.9 350.6Z" fill="none" stroke="#f00" stroke-width="1.15" stroke-linejoin="miter"/>
<path d="M575.6 340.5L585.2 340.5L580.4 330.7Z" fill="none" stroke="#f00" stroke-width="1.15" stroke-linejoin="miter"/>
<path d="M590.5 305.9L600.1 305.9L595.3 296.1Z" fill="none" stroke="#f00" stroke-width="1.15" stroke-linejoin="miter"/>
<path d="M605.8 275.7L615.4 275.7L610.6 265.9Z" fill="none" stroke="#f00" stroke-width="1.15" stroke-linejoin="miter"/>
<path d="M621.0 247.2L630.6 247.2L625.8 237.4Z" fill="none" stroke="#f00" stroke-width="1.15" stroke-linejoin="miter"/>
<path d="M635.7 230.6L645.3 230.6L640.5 220.8Z" fill="none" stroke="#f00" stroke-width="1.15" stroke-linejoin="miter"/>
<path d="M656.7 206.9L666.3 206.9L661.5 197.1Z" fill="none" stroke="#f00" stroke-width="1.15" stroke-linejoin="miter"/>
<path d="M686.6 185.7L696.2 185.7L691.4 175.9Z" fill="none" stroke="#f00" stroke-width="1.15" stroke-linejoin="miter"/>
<path d="M716.4 191.8L726.0 191.8L721.2 182.0Z" fill="none" stroke="#f00" stroke-width="1.15" stroke-linejoin="miter"/>
<path d="M692.0 184.0V191.4" stroke="#f00" stroke-width="1.15" fill="none"/>
<path d="M692.0 202.6V210.0" stroke="#f00" stroke-width="1.15" fill="none"/>
<path d="M581.2 359.6L584.8 354.0L588.4 359.6L584.8 365.2Z" fill="none" stroke="#f00" stroke-width="1.15"/>
<path d="M590.1 343.3L593.7 337.7L597.3 343.3L593.7 348.9Z" fill="none" stroke="#f00" stroke-width="1.15"/>
<path d="M599.1 320.2L602.7 314.6L606.3 320.2L602.7 325.8Z" fill="none" stroke="#f00" stroke-width="1.15"/>
<path d="M611.0 297.0L614.6 291.4L618.2 297.0L614.6 302.6Z" fill="none" stroke="#f00" stroke-width="1.15"/>
<path d="M623.4 270.0L627.0 264.4L630.6 270.0L627.0 275.6Z" fill="none" stroke="#f00" stroke-width="1.15"/>
<path d="M644.1 230.2L647.7 224.6L651.3 230.2L647.7 235.8Z" fill="none" stroke="#f00" stroke-width="1.15"/>
<path d="M663.9 210.3L667.5 204.7L671.1 210.3L667.5 215.9Z" fill="none" stroke="#f00" stroke-width="1.15"/>
<path d="M688.4 197.0L692.0 191.4L695.6 197.0L692.0 202.6Z" fill="none" stroke="#f00" stroke-width="1.15"/>
<path d="M579.8 369.0V372.3" stroke="#000" stroke-width="2.0" fill="none"/>
<path d="M579.8 383.7V388.0" stroke="#000" stroke-width="2.0" fill="none"/>
<path d="M695.4 188.0V190.9" stroke="#000" stroke-width="2.0" fill="none"/>
<path d="M695.4 202.3V205.0" stroke="#000" stroke-width="2.0" fill="none"/>
<path d="M716.6 193.0V200.7" stroke="#000" stroke-width="2.0" fill="none"/>
<path d="M716.6 212.1V219.0" stroke="#000" stroke-width="2.0" fill="none"/>
<path d="M748.8 156.0V179.3" stroke="#000" stroke-width="2.0" fill="none"/>
<path d="M748.8 190.7V215.0" stroke="#000" stroke-width="2.0" fill="none"/>
<rect x="575.0" y="373.2" width="9.6" height="9.6" fill="none" stroke="#000" stroke-width="1.9"/>
<rect x="583.3" y="358.1" width="9.0" height="9.0" fill="none" stroke="#000" stroke-width="1.8"/>
<rect x="591.2" y="348.5" width="9.0" height="9.0" fill="none" stroke="#000" stroke-width="1.8"/>
<rect x="598.8" y="325.7" width="9.0" height="9.0" fill="none" stroke="#000" stroke-width="1.8"/>
<rect x="606.7" y="310.4" width="9.0" height="9.0" fill="none" stroke="#000" stroke-width="1.8"/>
<rect x="615.1" y="290.5" width="9.0" height="9.0" fill="none" stroke="#000" stroke-width="1.8"/>
<rect x="622.8" y="277.4" width="9.0" height="9.0" fill="none" stroke="#000" stroke-width="1.8"/>
<rect x="630.8" y="260.8" width="9.0" height="9.0" fill="none" stroke="#000" stroke-width="1.8"/>
<rect x="639.2" y="246.1" width="9.0" height="9.0" fill="none" stroke="#000" stroke-width="1.8"/>
<rect x="647.2" y="238.1" width="9.0" height="9.0" fill="none" stroke="#000" stroke-width="1.8"/>
<rect x="658.3" y="225.2" width="9.0" height="9.0" fill="none" stroke="#000" stroke-width="1.8"/>
<rect x="675.0" y="212.5" width="9.0" height="9.0" fill="none" stroke="#000" stroke-width="1.8"/>
<rect x="690.6" y="191.8" width="9.6" height="9.6" fill="none" stroke="#000" stroke-width="1.9"/>
<rect x="711.8" y="201.6" width="9.6" height="9.6" fill="none" stroke="#000" stroke-width="1.9"/>
<rect x="744.0" y="180.2" width="9.6" height="9.6" fill="none" stroke="#000" stroke-width="1.9"/>
<path d="M578.4 357.7V361.8" stroke="#000" stroke-width="2.0" fill="none"/>
<path d="M578.4 373.2V378.0" stroke="#000" stroke-width="2.0" fill="none"/>
<path d="M718.4 188.0V192.2" stroke="#000" stroke-width="2.0" fill="none"/>
<path d="M718.4 203.6V207.0" stroke="#000" stroke-width="2.0" fill="none"/>
<path d="M737.7 190.0V204.3" stroke="#000" stroke-width="2.0" fill="none"/>
<path d="M737.7 215.7V229.0" stroke="#000" stroke-width="2.0" fill="none"/>
<path d="M762.8 167.0V188.3" stroke="#000" stroke-width="2.0" fill="none"/>
<path d="M762.8 199.7V222.0" stroke="#000" stroke-width="2.0" fill="none"/>
<path d="M795.0 168.0V188.3" stroke="#000" stroke-width="2.0" fill="none"/>
<path d="M795.0 199.7V218.0" stroke="#000" stroke-width="2.0" fill="none"/>
<path d="M844.8 139.0V179.3" stroke="#000" stroke-width="2.0" fill="none"/>
<path d="M844.8 190.7V232.0" stroke="#000" stroke-width="2.0" fill="none"/>
<circle cx="578.4" cy="367.5" r="4.85" fill="none" stroke="#000" stroke-width="1.9"/>
<circle cx="589.8" cy="352.0" r="4.5" fill="none" stroke="#000" stroke-width="1.8"/>
<circle cx="601.3" cy="320.4" r="4.5" fill="none" stroke="#000" stroke-width="1.8"/>
<circle cx="613.0" cy="297.0" r="4.5" fill="none" stroke="#000" stroke-width="1.8"/>
<circle cx="625.2" cy="270.5" r="4.5" fill="none" stroke="#000" stroke-width="1.8"/>
<circle cx="637.0" cy="250.3" r="4.5" fill="none" stroke="#000" stroke-width="1.8"/>
<circle cx="649.0" cy="236.3" r="4.5" fill="none" stroke="#000" stroke-width="1.8"/>
<circle cx="661.2" cy="220.1" r="4.5" fill="none" stroke="#000" stroke-width="1.8"/>
<circle cx="673.4" cy="213.5" r="4.5" fill="none" stroke="#000" stroke-width="1.8"/>
<circle cx="690.0" cy="205.8" r="4.5" fill="none" stroke="#000" stroke-width="1.8"/>
<circle cx="718.4" cy="197.9" r="4.85" fill="none" stroke="#000" stroke-width="1.9"/>
<circle cx="737.7" cy="210.0" r="4.85" fill="none" stroke="#000" stroke-width="1.9"/>
<circle cx="762.8" cy="194.0" r="4.85" fill="none" stroke="#000" stroke-width="1.9"/>
<circle cx="795.0" cy="194.0" r="4.85" fill="none" stroke="#000" stroke-width="1.9"/>
<circle cx="844.8" cy="185.0" r="4.85" fill="none" stroke="#000" stroke-width="1.9"/>
<path d="M558.00 390.9v-11.8M558.00 78.3v11.8M619.12 390.9v-11.8M619.12 78.3v11.8M680.25 390.9v-11.8M680.25 78.3v11.8M741.38 390.9v-11.8M741.38 78.3v11.8M802.50 390.9v-11.8M802.50 78.3v11.8M863.62 390.9v-11.8M863.62 78.3v11.8M588.56 390.9v-6M588.56 78.3v6M649.69 390.9v-6M649.69 78.3v6M710.81 390.9v-6M710.81 78.3v6M771.94 390.9v-6M771.94 78.3v6M833.06 390.9v-6M833.06 78.3v6M552.2 378.30h11.5M869.7 378.30h-11.5M552.2 326.10h11.5M869.7 326.10h-11.5M552.2 273.90h11.5M869.7 273.90h-11.5M552.2 221.70h11.5M869.7 221.70h-11.5M552.2 169.50h11.5M869.7 169.50h-11.5M552.2 117.30h11.5M869.7 117.30h-11.5M552.2 352.20h6M869.7 352.20h-6M552.2 300.00h6M869.7 300.00h-6M552.2 247.80h6M869.7 247.80h-6M552.2 195.60h6M869.7 195.60h-6M552.2 143.40h6M869.7 143.40h-6M552.2 91.20h6M869.7 91.20h-6" stroke="#333" stroke-width="0.9" fill="none"/>
<rect x="552.2" y="78.3" width="317.5" height="312.6" fill="none" stroke="#000" stroke-width="2.0"/>
<path d="M687.3 315.6L697.1 315.6L692.2 305.8Z" fill="none" stroke="#000" stroke-width="1.7" stroke-linejoin="miter"/>
<circle cx="802.2" cy="310.6" r="5.0" fill="none" stroke="#000" stroke-width="1.8"/>
<rect x="687.4" y="347.0" width="10.0" height="10.0" fill="none" stroke="#000" stroke-width="1.8"/>
<path d="M786.8 352.1L790.0 346.7L793.3 352.1L790.0 357.5Z" fill="none" stroke="#000" stroke-width="1.8"/>
</svg>
<div class="tx">
<div class="t " style="left:82.20px;top:366.91px;font-size:18.3px;transform:translateX(-100%);">0</div>
<div class="t " style="left:82.20px;top:314.86px;font-size:18.3px;transform:translateX(-100%);">0.05</div>
<div class="t " style="left:80.60px;top:262.81px;font-size:18.3px;transform:translateX(-100%);">0.1</div>
<div class="t " style="left:82.20px;top:210.76px;font-size:18.3px;transform:translateX(-100%);">0.15</div>
<div class="t " style="left:82.20px;top:158.71px;font-size:18.3px;transform:translateX(-100%);">0.2</div>
<div class="t " style="left:82.20px;top:106.66px;font-size:18.3px;transform:translateX(-100%);">0.25</div>
<div class="t " style="left:105.10px;top:396.51px;font-size:18.3px;transform:translateX(-50%);">0</div>
<div class="t " style="left:158.07px;top:396.51px;font-size:18.3px;transform:translateX(-50%);">1</div>
<div class="t " style="left:211.04px;top:396.51px;font-size:18.3px;transform:translateX(-50%);">2</div>
<div class="t " style="left:264.01px;top:396.51px;font-size:18.3px;transform:translateX(-50%);">3</div>
<div class="t " style="left:316.98px;top:396.51px;font-size:18.3px;transform:translateX(-50%);">4</div>
<div class="t " style="left:369.95px;top:396.51px;font-size:18.3px;transform:translateX(-50%);">5</div>
<div class="t " style="left:536.30px;top:369.81px;font-size:18.3px;transform:translateX(-100%);">0</div>
<div class="t " style="left:536.30px;top:317.61px;font-size:18.3px;transform:translateX(-100%);">0.02</div>
<div class="t " style="left:536.30px;top:265.41px;font-size:18.3px;transform:translateX(-100%);">0.04</div>
<div class="t " style="left:536.30px;top:213.21px;font-size:18.3px;transform:translateX(-100%);">0.06</div>
<div class="t " style="left:536.30px;top:161.01px;font-size:18.3px;transform:translateX(-100%);">0.08</div>
<div class="t " style="left:534.70px;top:108.81px;font-size:18.3px;transform:translateX(-100%);">0.1</div>
<div class="t " style="left:557.60px;top:396.51px;font-size:18.3px;transform:translateX(-50%);">0</div>
<div class="t " style="left:618.73px;top:396.51px;font-size:18.3px;transform:translateX(-50%);">0.5</div>
<div class="t " style="left:679.85px;top:396.51px;font-size:18.3px;transform:translateX(-50%);">1</div>
<div class="t " style="left:740.98px;top:396.51px;font-size:18.3px;transform:translateX(-50%);">1.5</div>
<div class="t " style="left:802.10px;top:396.51px;font-size:18.3px;transform:translateX(-50%);">2</div>
<div class="t " style="left:863.23px;top:396.51px;font-size:18.3px;transform:translateX(-50%);">2.5</div>
<div class="t " style="left:132.00px;top:105.58px;font-size:24px;">(a)</div>
<div class="t " style="left:587.90px;top:100.66px;font-size:24.5px;">(b)</div>
<div class="t " style="left:198.20px;top:419.34px;font-size:27px;">p<span class="sub">T</span> (GeV/c)</div>
<div class="t " style="left:636.70px;top:418.94px;font-size:27px;">p<span class="sub">T</span>/n<span class="sub">q</span> (GeV/c)</div>
<div class="t " style="left:257.60px;top:304.41px;font-size:18.3px;"><span class="sy pi">π</span><span class="sup" style="margin-left:0.5px">−</span><span class="pl">+</span><span class="sy pi">π</span><span class="sup">+</span></div>
<div class="t " style="left:363.40px;top:304.41px;font-size:18.3px;">K</div>
<div class="t " style="left:376.30px;top:302.64px;font-size:12px;">0</div>
<div class="t " style="left:375.50px;top:315.64px;font-size:12px;">S</div>
<div class="t " style="left:257.80px;top:346.01px;font-size:18.3px;"><span class="sy la">Λ</span><span class="pl">+</span><span class="ob"><span class="sy la">Λ</span></span></div>
<div class="t " style="left:355.20px;top:345.51px;font-size:18.3px;">p<span class="pl">+</span><span class="ob">p</span></div>
<div class="t " style="left:712.00px;top:301.91px;font-size:18.3px;"><span class="sy pi">π</span><span class="sup" style="margin-left:0.5px">−</span><span class="pl">+</span><span class="sy pi">π</span><span class="sup">+</span></div>
<div class="t " style="left:821.90px;top:301.91px;font-size:18.3px;">K</div>
<div class="t " style="left:834.80px;top:300.14px;font-size:12px;">0</div>
<div class="t " style="left:834.00px;top:313.14px;font-size:12px;">S</div>
<div class="t " style="left:712.20px;top:343.51px;font-size:18.3px;"><span class="sy la">Λ</span><span class="pl">+</span><span class="ob"><span class="sy la">Λ</span></span></div>
<div class="t " style="left:809.60px;top:343.01px;font-size:18.3px;">p<span class="pl">+</span><span class="ob">p</span></div>
<div class="t" style="left:-0.06px;top:240.80px;font-size:27px;transform-origin:0 0;transform:rotate(-90deg);">v<span class="sub">2</span></div>
<div class="t" style="left:457.34px;top:250.10px;font-size:27px;transform-origin:0 0;transform:rotate(-90deg);">v<span class="sub">2</span>/n<span class="sub">q</span></div>
<div class="t" style="left:891.30px;top:79.30px;font-size:10.75px;transform-origin:0 0;transform:rotate(90deg);">//paper1_22dec03/figures/v2_coal_hydro_23dec03.kumac //</div>
</div>
</body></html>
